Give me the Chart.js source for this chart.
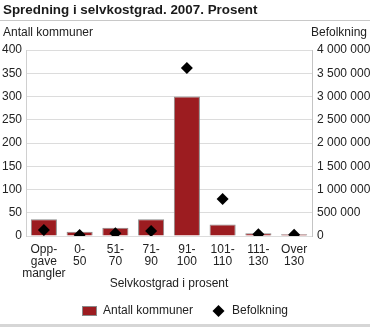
<!DOCTYPE html>
<html>
<head>
<meta charset="utf-8">
<script src="https://cdn.jsdelivr.net/npm/chart.js@4.4.0/dist/chart.umd.min.js"></script>
<style>
  body { margin: 0; background: #fff; }
  #wrap { position: relative; width: 370px; height: 327px; }
</style>
</head>
<body>
<div id="wrap"><canvas id="chart" width="370" height="327"></canvas></div>
<script>
// data
var categories = [
    ['Opp-', 'gave', 'mangler'], ['0-', '50'], ['51-', '70'], ['71-', '90'],
    ['91-', '100'], ['101-', '110'], ['111-', '130'], ['Over', '130']
];
var antallKommuner = [36, 9, 18, 36, 300, 25, 6, 4];
var befolkning = [128000, 20000, 58000, 107000, 3615000, 795000, 35000, 25000];

var chartTitle = 'Spredning i selvkostgrad. 2007. Prosent';
var leftAxisTitle = 'Antall kommuner';
var rightAxisTitle = 'Befolkning';
var xAxisTitle = 'Selvkostgrad i prosent';

var red = '#9c1c20';
var font = 'Arial, "Liberation Sans", sans-serif';

function spaceThousands(v) {
    return String(v).replace(/\B(?=(\d{3})+(?!\d))/g, ' ');
}

// little legend symbols: a 15x10 box and a diamond
function legendBox() {
    var cv = document.createElement('canvas');
    cv.width = 15; cv.height = 10;
    var c = cv.getContext('2d');
    c.fillStyle = '#8a8a8a';
    c.fillRect(0, 0, 15, 10);
    c.fillStyle = red;
    c.fillRect(1, 1, 13, 8);
    return cv;
}
function legendDiamond() {
    var cv = document.createElement('canvas');
    cv.width = 15; cv.height = 12;
    var c = cv.getContext('2d');
    c.fillStyle = '#000';
    c.beginPath();
    c.moveTo(7.5, 0); c.lineTo(13.5, 6); c.lineTo(7.5, 12); c.lineTo(1.5, 6);
    c.closePath();
    c.fill();
    return cv;
}
var legendSymbols = [legendBox(), legendDiamond()];

// title, rules and axis headers drawn on top of the canvas
var decor = {
    id: 'decor',
    afterDraw: function (chart) {
        var c = chart.ctx;
        c.save();
        c.fillStyle = '#1a1a1a';
        c.font = 'bold 13.4px ' + font;
        c.textBaseline = 'middle';
        c.textAlign = 'left';
        c.fillText(chartTitle, 3, 10);
        c.fillStyle = '#c8c8c8';
        c.fillRect(0, 20, 370, 1);
        c.fillStyle = '#d6d6d6';
        c.fillRect(0, 324, 370, 3);
        c.fillStyle = '#222';
        c.font = '12px ' + font;
        c.fillText(leftAxisTitle, 3, 33);
        c.textAlign = 'right';
        c.fillText(rightAxisTitle, 367, 33);
        c.restore();
    }
};

var ctx = document.getElementById('chart');
var myChart = new Chart(ctx, {
    type: 'bar',
    data: {
        labels: categories,
        datasets: [{
            label: 'Antall kommuner',
            data: antallKommuner,
            backgroundColor: red,
            borderColor: '#8a8a8a',
            borderWidth: 1,
            barPercentage: 0.73,
            categoryPercentage: 1,
            yAxisID: 'y',
            order: 2
        }, {
            type: 'line',
            label: 'Befolkning',
            data: befolkning,
            showLine: false,
            pointStyle: 'rectRot',
            pointRadius: 6,
            pointHoverRadius: 6,
            backgroundColor: '#000',
            borderColor: '#000',
            borderWidth: 0,
            yAxisID: 'y1',
            order: 1
        }]
    },
    options: {
        responsive: false,
        animation: false,
        layout: { padding: { top: 50, left: 0, right: 0, bottom: 0 } },
        plugins: {
            tooltip: { enabled: false },
            legend: {
                position: 'bottom',
                labels: {
                    usePointStyle: true,
                    boxHeight: 10,
                    pointStyleWidth: 15,
                    padding: 8,
                    color: '#222',
                    font: { family: font, size: 12 },
                    generateLabels: function (chart) {
                        var items = Chart.defaults.plugins.legend.labels.generateLabels(chart);
                        items.sort(function (a, b) { return a.datasetIndex - b.datasetIndex; });
                        items.forEach(function (it) {
                            it.pointStyle = legendSymbols[it.datasetIndex];
                            if (it.datasetIndex === 0) it.text = it.text + '   ';
                        });
                        return items;
                    }
                }
            }
        },
        scales: {
            x: {
                grid: { display: false, drawTicks: false },
                border: { display: false },
                ticks: {
                    color: '#222',
                    font: { family: font, size: 12, lineHeight: 0.98 },
                    maxRotation: 0,
                    autoSkip: false,
                    padding: 8
                },
                title: {
                    display: true,
                    text: xAxisTitle,
                    color: '#222',
                    font: { family: font, size: 12 },
                    padding: { top: 0, bottom: 6 }
                },
                afterFit: function (s) { s.height = 61; }
            },
            y: {
                position: 'left',
                min: 0,
                max: 400,
                ticks: {
                    stepSize: 50,
                    color: '#222',
                    font: { family: font, size: 12 },
                    padding: 4
                },
                grid: { color: '#dcdcdc', drawTicks: false },
                border: { color: '#d0d0d0' },
                afterFit: function (s) { s.width = 26; }
            },
            y1: {
                position: 'right',
                min: 0,
                max: 4000000,
                ticks: {
                    stepSize: 500000,
                    color: '#222',
                    font: { family: font, size: 12 },
                    padding: 5,
                    callback: function (v) { return spaceThousands(v); }
                },
                grid: { drawOnChartArea: false, drawTicks: false },
                border: { color: '#c4c4c4' },
                afterFit: function (s) { s.width = 58; }
            }
        }
    },
    plugins: [decor]
});
</script>
</body>
</html>
